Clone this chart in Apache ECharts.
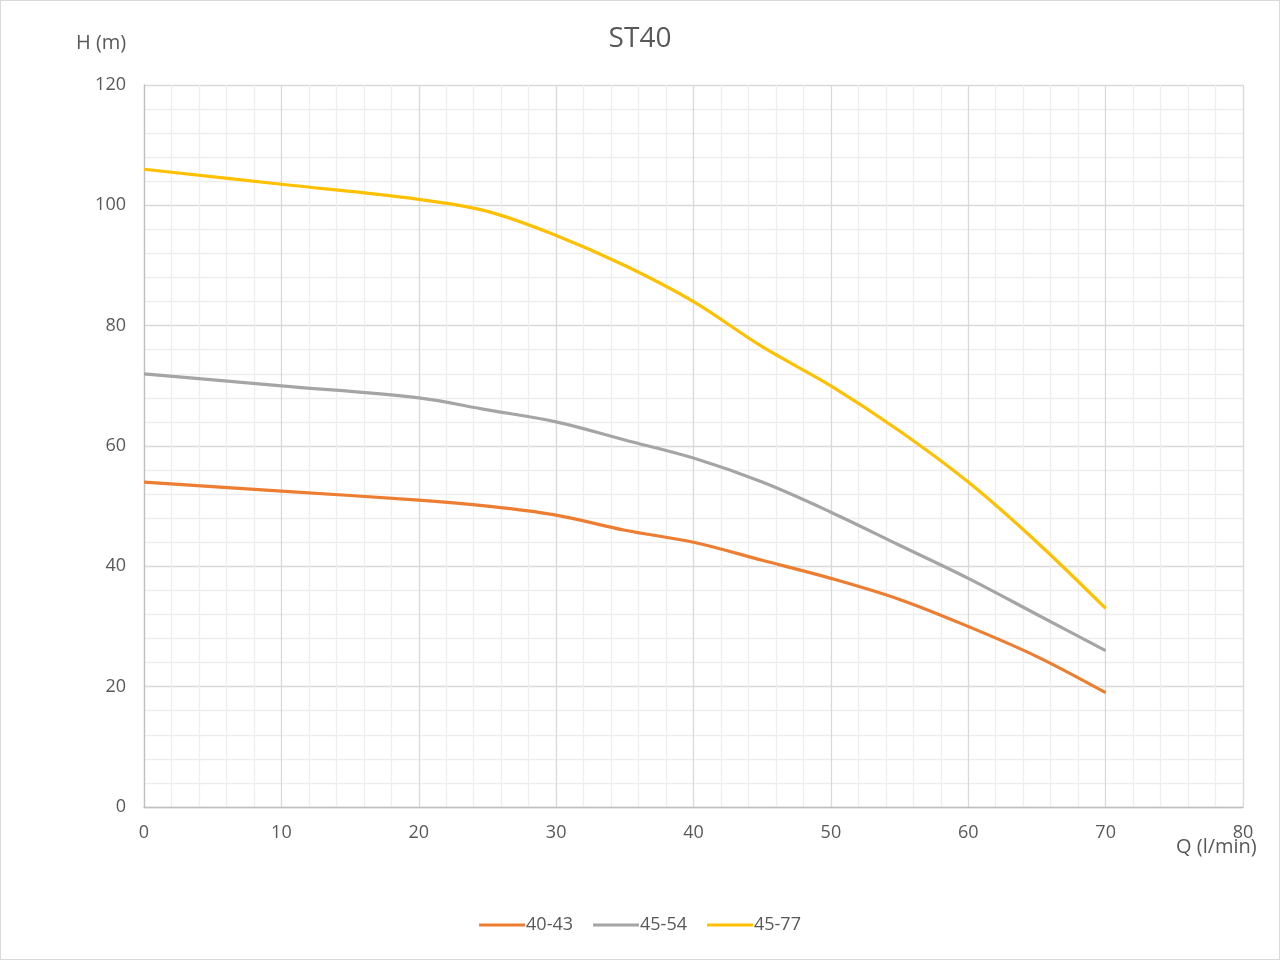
<!DOCTYPE html>
<html>
<head>
<meta charset="utf-8">
<script src="https://cdn.jsdelivr.net/npm/echarts@6/dist/echarts.min.js"></script>
<style>
html,body{margin:0;padding:0;background:#fff;}
#c{width:1278px;height:958px;border:1px solid #d9d9d9;}
</style>
</head>
<body>
<div id="c"></div>
<script>
const flow = [0,10,20,25,30,35,40,45,50,55,60,65,70];
const s4043 = [54,52.5,51,50,48.5,46,44,41,38,34.5,30,25,19];
const s4554 = [72,70,68,66,64,61,58,54,49,43.5,38,32,26];
const s4577 = [106,103.5,101,99,95,90,84,76.5,70,62.5,54,44,33];
const seriesNames = ['40-43','45-54','45-77'];
const colors = ['#ED7D31','#A5A5A5','#FFC000'];
const font = '"Open Sans", "Liberation Sans", sans-serif';

const chart = echarts.init(document.getElementById('c'));
const mk = (name, vals, color) => ({
  name, type:'line', smooth:0.35, showSymbol:false, symbol:'none',
  data: flow.map((x,i)=>[x, vals[i]]),
  lineStyle:{color, width:3.2}, itemStyle:{color}
});
chart.setOption({
  animation:false,
  title:{text:'ST40', left:'center', top:19, textStyle:{fontFamily:font, fontSize:28, fontWeight:'normal', color:'#595959'}},
  grid:{left:143, right:36, top:84, bottom:152},
  legend:{bottom:20, left:'center', icon:'rect', itemWidth:46, itemHeight:3, itemGap:20,
    textStyle:{fontFamily:font, fontSize:18, color:'#595959', padding:[0,0,0,-4]}, data:seriesNames},
  xAxis:{type:'value', min:0, max:80, interval:10,
    axisLine:{lineStyle:{color:'#bfbfbf', width:1.3}}, axisTick:{show:false},
    axisLabel:{fontFamily:font, fontSize:18, color:'#595959', margin:17},
    splitLine:{lineStyle:{color:'#d9d9d9', width:1.3}},
    minorTick:{show:false, splitNumber:5},
    minorSplitLine:{show:true, lineStyle:{color:'#eeeeee', width:1.3}}},
  yAxis:{type:'value', min:0, max:120, interval:20,
    axisLine:{show:true, lineStyle:{color:'#bfbfbf', width:1.3}}, axisTick:{show:false},
    axisLabel:{fontFamily:font, fontSize:18, color:'#595959', margin:18},
    splitLine:{lineStyle:{color:'#d9d9d9', width:1.3}},
    minorTick:{show:false, splitNumber:5},
    minorSplitLine:{show:true, lineStyle:{color:'#eeeeee', width:1.3}}},
  graphic:[
    {type:'text', left:75, top:32, style:{text:'H (m)', font:'20px '+font, fill:'#595959'}},
    {type:'text', left:1175, top:836, style:{text:'Q (l/min)', font:'20px '+font, fill:'#595959'}}
  ],
  series:[mk(seriesNames[0], s4043, colors[0]), mk(seriesNames[1], s4554, colors[1]), mk(seriesNames[2], s4577, colors[2])]
});
</script>
</body>
</html>
